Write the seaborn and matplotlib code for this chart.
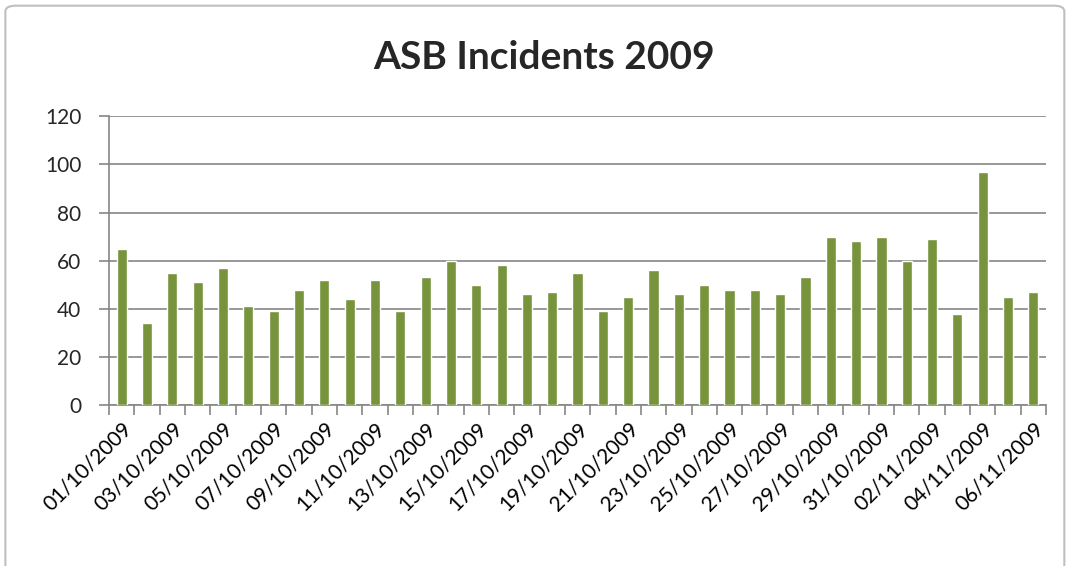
import matplotlib
matplotlib.use('Agg')
import matplotlib.pyplot as plt
from matplotlib.patches import FancyBboxPatch
import seaborn as sns
import pandas as pd

dates = ['01/10/2009', '02/10/2009', '03/10/2009', '04/10/2009', '05/10/2009',
         '06/10/2009', '07/10/2009', '08/10/2009', '09/10/2009', '10/10/2009',
         '11/10/2009', '12/10/2009', '13/10/2009', '14/10/2009', '15/10/2009',
         '16/10/2009', '17/10/2009', '18/10/2009', '19/10/2009', '20/10/2009',
         '21/10/2009', '22/10/2009', '23/10/2009', '24/10/2009', '25/10/2009',
         '26/10/2009', '27/10/2009', '28/10/2009', '29/10/2009', '30/10/2009',
         '31/10/2009', '01/11/2009', '02/11/2009', '03/11/2009', '04/11/2009',
         '05/11/2009', '06/11/2009']
incidents = [65, 34, 55, 51, 57, 41, 39, 48, 52, 44,
             52, 39, 53, 60, 50, 58, 46, 47, 55, 39,
             45, 56, 46, 50, 48, 48, 46, 53, 70, 68,
             70, 60, 69, 38, 97, 45, 47]
y_ticks = [0, 20, 40, 60, 80, 100, 120]

df = pd.DataFrame({'date': dates, 'incidents': incidents})

sns.set_style('white')
plt.rcParams['font.family'] = ['Lato', 'DejaVu Sans']

fig = plt.figure(figsize=(10.74, 5.66), dpi=100)
ax = fig.add_axes([0.1015, 0.2845, 0.8725, 0.51])

# outer chart border
border = FancyBboxPatch((0.005, -0.05), 0.986, 1.04, boxstyle='round,pad=0,rounding_size=0.01',
                        transform=fig.transFigure, fill=False, edgecolor='#BFBFBF', linewidth=1.5)
fig.patches.append(border)

sns.barplot(data=df, x='date', y='incidents', color='#77933C', width=0.4,
            saturation=1, ax=ax, zorder=3)

ax.set_ylim(0, 120)
ax.set_xlim(-0.5, len(dates) - 0.5)
ax.set_yticks(y_ticks)
ax.yaxis.grid(True, color='#868686', linewidth=1.2)
ax.set_axisbelow(True)

ax.set_xticks(range(0, len(dates), 2))
ax.set_xticklabels(dates[::2], rotation=45, ha='right', rotation_mode='anchor', fontsize=15, color='#000000')
ax.set_xticks([i - 0.5 for i in range(len(dates) + 1)], minor=True)
ax.tick_params(axis='x', which='major', length=0, pad=10)
ax.tick_params(axis='x', which='minor', length=7, color='#868686', width=1.2, direction='out', bottom=True)
ax.tick_params(axis='y', length=7, color='#868686', width=1.2, direction='out', labelsize=15, pad=13, left=True)

for s in ['top', 'right']:
    ax.spines[s].set_visible(False)
for s in ['left', 'bottom']:
    ax.spines[s].set_color('#868686')
    ax.spines[s].set_linewidth(1.2)

ax.set_xlabel('')
ax.set_ylabel('')
fig.text(0.507, 0.899, 'ASB Incidents 2009', ha='center', va='center', fontsize=28, fontweight='bold')

plt.savefig('out.png', dpi=100)
